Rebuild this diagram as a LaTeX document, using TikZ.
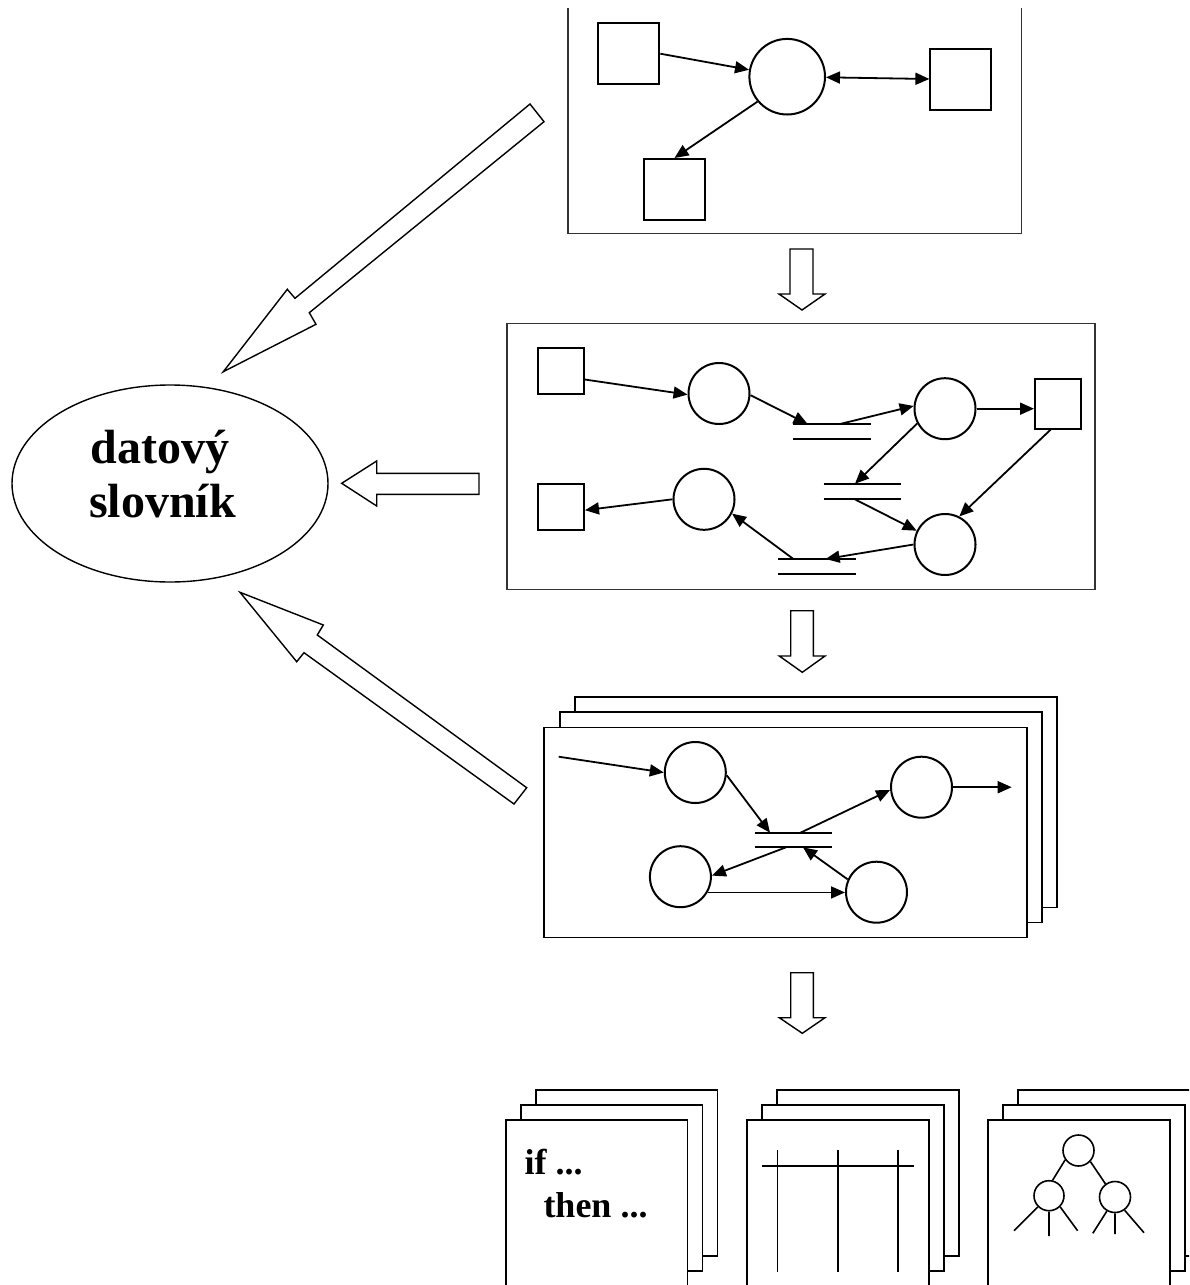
\documentclass[tikz,border=0pt]{standalone}
\usepackage{fontspec}
\setmainfont{Liberation Serif}
\usetikzlibrary{arrows.meta,shapes.geometric,calc}
\begin{document}
\begin{tikzpicture}[x=1pt,y=-1pt,
  frame/.style={draw=black!80,line width=1.3pt},
  sheet/.style={draw=black,line width=1.6pt,fill=white},
  sqA/.style={draw,line width=2pt,minimum size=61pt,inner sep=0pt},
  sqB/.style={draw,line width=2pt,minimum width=46pt,minimum height=46pt,inner sep=0pt},
  crcA/.style={draw,circle,line width=2pt,minimum size=75.6pt,inner sep=0pt},
  crcB/.style={draw,circle,line width=2pt,minimum size=61pt,inner sep=0pt},
  crcC/.style={draw,circle,line width=1.6pt,minimum size=31pt,inner sep=0pt},
  flow/.style={line width=1.8pt,-{Triangle[length=14pt,width=12pt]}},
  biflow/.style={line width=1.8pt,{Triangle[length=14pt,width=12pt]}-{Triangle[length=14pt,width=12pt]}},
  storeline/.style={line width=1.9pt},
  hollow/.style={draw,line width=1.4pt,fill=white,line join=miter},
  thinline/.style={line width=1.6pt},
  bigtext/.style={font=\fontsize{48}{55}\selectfont\bfseries,inner sep=0pt,anchor=base},
  codetext/.style={font=\fontsize{36}{44}\selectfont\bfseries,inner sep=0pt,anchor=base west},
]
\useasboundingbox (0,0) rectangle (1189,1285);
\fill[white] (0,0) rectangle (1189,1285);
\clip (0,0) rectangle (1189,1285);

% ---------- top box ----------
\draw[frame] (568,8) -- (568,233.3) -- (1021.7,233.3) -- (1021.7,8);
\node[sqA] (t1) at (628.8,53.7) {};
\node[crcA] (t0) at (787.2,76.7) {};
\node[sqA] (t2) at (960.9,79.5) {};
\node[sqA] (t3) at (674.5,189.5) {};
\draw[flow] (t1.east) -- (t0);
\draw[biflow] (t0) -- (t2);
\draw[flow] (t0.220) -- (t3.north);

% ---------- middle box ----------
\draw[frame] (507,323.3) rectangle (1095,589.3);
\node[sqB] (m1) at (561,370.8) {};
\node[crcB] (mc1) at (719,393.5) {};
\node[crcB] (mc2) at (945,408.7) {};
\node[sqB,minimum height=50pt] (m2) at (1058,403.7) {};
\node[crcB] (mc3) at (704,499.3) {};
\node[sqB] (m3) at (561,506.8) {};
\node[crcB] (mc4) at (945,544.5) {};
% stores
\coordinate (s1a) at (793,424);   \coordinate (s1b) at (871,424);
\coordinate (s1c) at (793,438.7); \coordinate (s1d) at (871,438.7);
\coordinate (s1in) at (807.6,424); \coordinate (s1out) at (840,424);
\draw[storeline] (s1a) -- (s1b) (s1c) -- (s1d);
\coordinate (s2a) at (823.5,483.7); \coordinate (s2b) at (900.6,483.7);
\coordinate (s2c) at (823.5,499);   \coordinate (s2d) at (900.6,499);
\coordinate (s2in) at (855,483.7); \coordinate (s2out) at (854.3,499);
\draw[storeline] (s2a) -- (s2b) (s2c) -- (s2d);
\coordinate (s3a) at (778,559);   \coordinate (s3b) at (855.6,559);
\coordinate (s3c) at (778,574.3); \coordinate (s3d) at (855.6,574.3);
\coordinate (s3in) at (825.6,559); \coordinate (s3out) at (793.4,559);
\draw[storeline] (s3a) -- (s3b) (s3c) -- (s3d);
\draw[flow] (m1.-20) -- (mc1.182);
\draw[flow] (mc1.-3) -- (s1in);
\draw[flow] (s1out) -- (mc2.175);
\draw[flow] (mc2.east) -- (mc2.east -| m2.west);
\draw[flow] (mc2.208) -- (s2in);
\draw[flow] (m2.254) -- (mc4.63);
\draw[flow] (s2out) -- (mc4.154);
\draw[flow] (mc4.180) -- (s3in);
\draw[flow] (s3out) -- (mc3.-27);
\draw[flow] (mc3.west) -- (m3.-8);

% ---------- third (stacked) box ----------
\draw[sheet] (575,696.7) rectangle (1057,907.3);
\draw[sheet] (560,711.7) rectangle (1042,922.3);
\draw[sheet] (544,727.3) rectangle (1027,937.3);
\node[crcB] (A) at (695.3,772.5) {};
\node[crcB] (B) at (921.5,787.2) {};
\node[crcB] (C) at (680.4,876.7) {};
\node[crcB] (D) at (876.5,892.2) {};
\coordinate (s4a) at (754.8,832.7); \coordinate (s4b) at (831.6,832.7);
\coordinate (s4c) at (754.8,847.3); \coordinate (s4d) at (831.6,847.3);
\draw[storeline] (s4a) -- (s4b) (s4c) -- (s4d);
\coordinate (s4in) at (770,832.7);   \coordinate (s4out) at (800.5,832.7);
\coordinate (s4out2) at (786,847.3); \coordinate (s4in2) at (803,847.3);
\coordinate (f1) at (558.7,756.7);
\coordinate (f2) at (1011.7,787.2);
\draw[flow] (f1) -- (A.west);
\draw[flow] (A.-5) -- (s4in);
\draw[flow] (s4out) -- (B.185);
\draw[flow] (B.east) -- (f2);
\draw[flow] (s4out2) -- (C.2);
\draw[flow] (C.-30) -- (C.-30 -| D.west);
\draw[flow] (D.156) -- (s4in2);

% ---------- down arrows ----------
\draw[hollow] (790,249) -- (813,249) -- (813,294) -- (825,294) -- (802,310) -- (779,294) -- (790,294) -- cycle;
\draw[hollow] (790.7,610.7) -- (813.3,610.7) -- (813.3,656) -- (825,656) -- (802.3,672.3) -- (779.3,656) -- (790.7,656) -- cycle;
\draw[hollow] (790.7,972.7) -- (813.3,972.7) -- (813.3,1017.7) -- (825,1017.7) -- (802.3,1033.3) -- (779.3,1017.7) -- (790.7,1017.7) -- cycle;

% ---------- big arrows to the dictionary ----------
\draw[hollow] (530,104) -- (544,121.7) -- (309.3,312.7) -- (316,324.3) -- (223.3,371.7) -- (287.3,289.3) -- (295,298.3) -- cycle;
\draw[hollow] (341.7,483.3) -- (376.7,461) -- (376.7,473.3) -- (479,473.3) -- (479,494.3) -- (376.7,494.3) -- (376.7,506) -- cycle;
\draw[hollow] (240,592.3) -- (323.3,625) -- (317.3,635) -- (526.7,787.7) -- (514,804) -- (304,652.7) -- (296.7,661.7) -- cycle;

% ---------- dictionary ----------
\node[draw,ellipse,line width=1.4pt,minimum width=316pt,minimum height=197pt,inner sep=0pt] (dict) at (170,483.5) {};
\node[bigtext] (dictA) at (160,463) {datový};
\node[bigtext] (dictB) at (162.5,517.7) {slovník};

% ---------- bottom stacks ----------
% stack 1 : code
\draw[sheet] (536,1090) rectangle (717.5,1256);
\draw[sheet] (521,1105) rectangle (702.5,1271);
\draw[sheet] (506,1120) rectangle (687.5,1286);
\node[codetext] (ifA) at (524.3,1174) {if ...};
\node[codetext] (thenA) at (543.3,1217.7) {then ...};
% stack 2 : table
\draw[sheet] (777,1090) rectangle (959,1256);
\draw[sheet] (762,1105) rectangle (944,1271);
\draw[sheet] (747,1120) rectangle (929,1286);
\coordinate (th1) at (762,1165.7); \coordinate (th2) at (913.5,1165.7);
\coordinate (tv1a) at (777.6,1150); \coordinate (tv1b) at (777.6,1271.7);
\coordinate (tv2a) at (837.7,1150); \coordinate (tv2b) at (837.7,1271.7);
\coordinate (tv3a) at (898,1150);   \coordinate (tv3b) at (898,1271.7);
\draw[thinline] (th1) -- (th2) (tv1a) -- (tv1b) (tv2a) -- (tv2b) (tv3a) -- (tv3b);
% stack 3 : tree
\draw[sheet] (1018,1090) rectangle (1200,1256);
\draw[sheet] (1003,1105) rectangle (1185,1271);
\draw[sheet] (988,1120) rectangle (1170,1286);
\node[crcC] (tt) at (1078.5,1150.5) {};
\node[crcC,minimum size=30pt] (tl) at (1049,1195.7) {};
\node[crcC] (tr) at (1115,1197) {};
\coordinate (l1) at (1014,1230.7); \coordinate (l2) at (1049,1236); \coordinate (l3) at (1077.6,1230.7);
\coordinate (r1) at (1092.8,1233.3); \coordinate (r2) at (1115,1234); \coordinate (r3) at (1144,1232.7);
\draw[thinline] (tt.215) -- (tl.77);
\draw[thinline] (tt.-43) -- (tr.126);
\draw[thinline] (tl.225) -- (l1) (tl.south) -- (l2) (tl.-45) -- (l3);
\draw[thinline] (tr.240) -- (r1) (tr.south) -- (r2) (tr.-54) -- (r3);
\end{tikzpicture}
\end{document}
